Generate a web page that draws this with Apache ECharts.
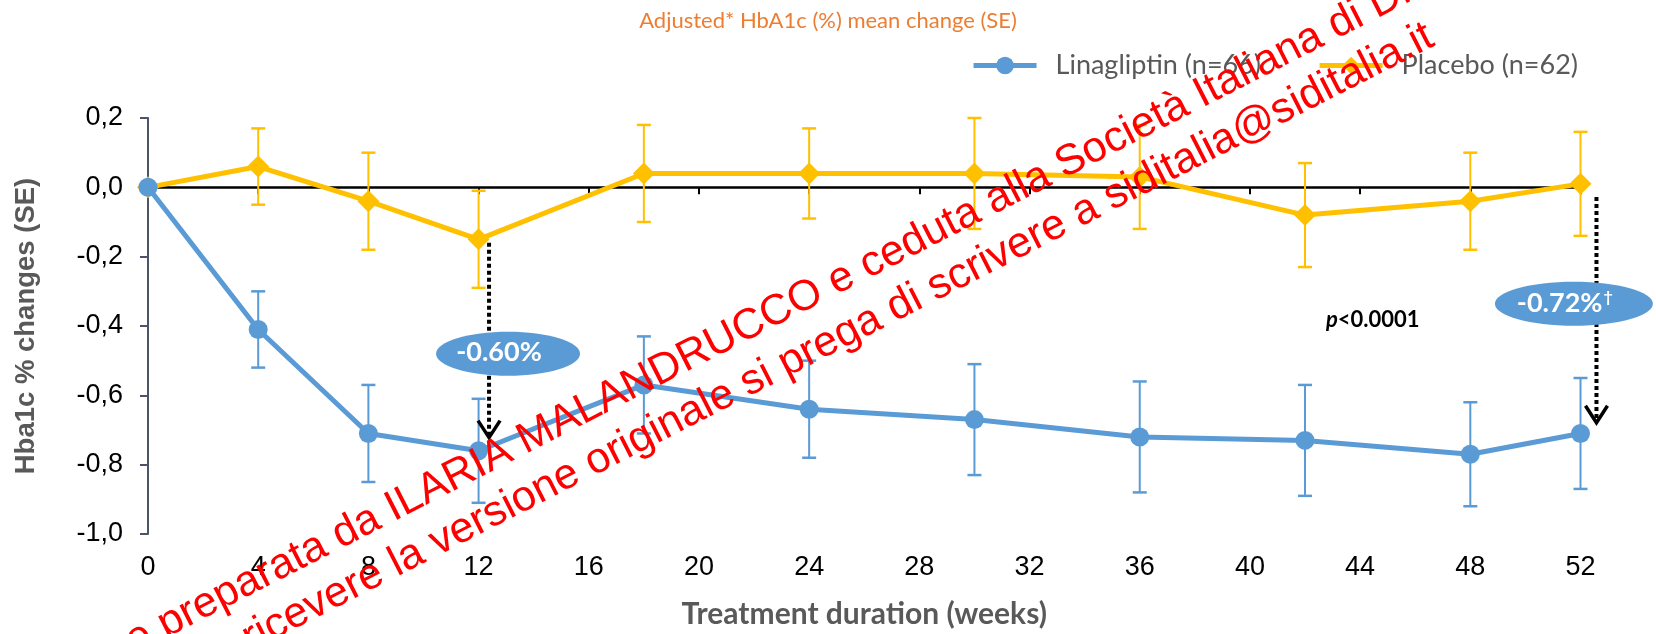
<!DOCTYPE html>
<html><head><meta charset="utf-8">
<script src="https://cdn.jsdelivr.net/npm/echarts@6/dist/echarts.min.js"></script>
<style>html,body{margin:0;padding:0;background:#fff}#c{width:1656px;height:634px}</style>
</head><body><div id="c"></div>
<script>
// ---------- data ----------
const weeks = [0, 4, 8, 12, 18, 24, 30, 36, 42, 48, 52];
const linaValues = [0, -0.41, -0.71, -0.76, -0.57, -0.64, -0.67, -0.72, -0.73, -0.77, -0.71];
const linaSE = [0, 0.11, 0.14, 0.15, 0.14, 0.14, 0.16, 0.16, 0.16, 0.15, 0.16];
const placeboValues = [0, 0.06, -0.04, -0.15, 0.04, 0.04, 0.04, 0.03, -0.08, -0.04, 0.01];
const placeboSE = [0, 0.11, 0.14, 0.14, 0.14, 0.13, 0.16, 0.15, 0.15, 0.14, 0.15];
const xTickLabels = ['0','4','8','12','16','20','24','28','32','36','40','44','48','52'];
const yTickLabels = ['-1,0','-0,8','-0,6','-0,4','-0,2','0,0','0,2'];
const seriesNames = ['Linagliptin (n=66)', 'Placebo (n=62)'];
const titleText = 'Adjusted* HbA1c (%) mean change (SE)';
const xAxisTitle = 'Treatment duration (weeks)';
const yAxisTitle = 'Hba1c % changes (SE)';
const diffLabels = ['-0.60%', '-0.72%'];
const pValueText = 'p<0.0001';
const watermarkLines = [
  'Presentazione preparata da ILARIA MALANDRUCCO e ceduta alla Società Italiana di Diabetologia',
  'Per ricevere la versione originale si prega di scrivere a siditalia@siditalia.it'
];

const BLUE = '#5B9BD5', YELLOW = '#FFC000';

function errorSeries(name, values, se, color, z) {
  const d = [];
  weeks.forEach((w, i) => { if (se[i] > 0) d.push([w, values[i] - se[i], values[i] + se[i]]); });
  return {
    type: 'custom', name: name, z: z, silent: true, xAxisIndex: 0, yAxisIndex: 0,
    data: d, encode: { x: 0, y: [1, 2] },
    renderItem: function (params, api) {
      const x = api.value(0);
      const lo = api.coord([x, api.value(1)]);
      const hi = api.coord([x, api.value(2)]);
      const hw = 7;
      return { type: 'group', children: [
        { type: 'line', shape: { x1: lo[0], y1: lo[1], x2: hi[0], y2: hi[1] }, style: { stroke: color, lineWidth: 2 } },
        { type: 'line', shape: { x1: lo[0] - hw, y1: lo[1], x2: lo[0] + hw, y2: lo[1] }, style: { stroke: color, lineWidth: 2.5 } },
        { type: 'line', shape: { x1: hi[0] - hw, y1: hi[1], x2: hi[0] + hw, y2: hi[1] }, style: { stroke: color, lineWidth: 2.5 } }
      ]};
    }
  };
}

const chart = echarts.init(document.getElementById('c'), null, { renderer: 'canvas' });
const option = {
  animation: false,
  backgroundColor: '#fff',
  title: {
    text: titleText, left: 'center', top: 10, padding: 0,
    textStyle: { fontFamily: 'Lato', fontWeight: 'normal', fontSize: 22, color: '#ED7D31' }
  },
  legend: {
    data: seriesNames, right: 73, top: 47,
    itemWidth: 63, itemHeight: 22, itemGap: 56, selectedMode: false,
    lineStyle: { width: 5 },
    textStyle: { fontFamily: 'Lato', fontSize: 27, color: '#595959', padding: [0, 0, 0, 14] }
  },
  grid: { left: 148, right: 75.5, top: 118, bottom: 100, containLabel: false },
  xAxis: [
    {
      type: 'value', min: 0, max: 52, interval: 4, position: 'bottom',
      axisLine: { show: false, onZero: false }, axisTick: { show: false }, splitLine: { show: false },
      axisLabel: { margin: 20, fontFamily: 'Liberation Sans', fontSize: 27, color: '#000',
        formatter: function (v, i) { return xTickLabels[i]; } },
      name: xAxisTitle, nameLocation: 'middle', nameGap: 65,
      nameTextStyle: { fontFamily: 'Lato', fontWeight: 'bold', fontSize: 30, color: '#595959' }
    },
    {
      type: 'value', min: 0, max: 52, interval: 4, position: 'top',
      axisLine: { show: true, onZero: true, lineStyle: { color: '#000', width: 2.5 } },
      axisTick: { show: true, inside: true, length: 7, lineStyle: { color: '#000', width: 2 } },
      axisLabel: { show: false }, splitLine: { show: false }
    }
  ],
  yAxis: {
    type: 'value', min: -1, max: 0.2, interval: 0.2,
    axisLine: { show: true, onZero: false, lineStyle: { color: '#4A5568', width: 2 } },
    axisTick: { show: true, length: 8, lineStyle: { color: '#4A5568', width: 2 } },
    splitLine: { show: false },
    axisLabel: { margin: 25, fontFamily: 'Liberation Sans', fontSize: 27, color: '#000',
      formatter: function (v, i) { return yTickLabels[i]; } },
    name: yAxisTitle, nameLocation: 'middle', nameGap: 108,
    nameTextStyle: { fontFamily: 'Liberation Sans', fontWeight: 'bold', fontSize: 27.5, color: '#595959' }
  },
  series: [
    errorSeries('Placebo SE', placeboValues, placeboSE, YELLOW, 2),
    errorSeries('Linagliptin SE', linaValues, linaSE, BLUE, 2),
    {
      type: 'line', name: seriesNames[1], z: 3,
      data: weeks.map((w, i) => [w, placeboValues[i]]),
      symbol: 'diamond', symbolSize: 22,
      lineStyle: { color: YELLOW, width: 5 }, itemStyle: { color: YELLOW }
    },
    {
      type: 'line', name: seriesNames[0], z: 4,
      data: weeks.map((w, i) => [w, linaValues[i]]),
      symbol: 'circle', symbolSize: 19,
      lineStyle: { color: BLUE, width: 5 }, itemStyle: { color: BLUE }
    }
  ]
};
chart.setOption(option);

// ---------- annotations (positioned through the chart's own scales) ----------
const P = (x, y) => chart.convertToPixel({ gridIndex: 0 }, [x, y]);
const arrows = [
  { week: 12.38, from: -0.16, to: -0.722 },
  { week: 52.58, from: -0.028, to: -0.679 }
];
const bubbles = [
  { week: 13.07, value: -0.48, rx: 72, ry: 22, textWeek: 12.74, rich: '{b|' + diffLabels[0] + '}' },
  { week: 51.76, value: -0.336, rx: 79, ry: 22, textWeek: 51.43, rich: '{b|' + diffLabels[1] + '}{s|†}' }
];
const graphics = [];
arrows.forEach(a => {
  const s = P(a.week, a.from), t = P(a.week, a.to);
  graphics.push({ type: 'line', z: 100, shape: { x1: s[0], y1: s[1], x2: t[0], y2: t[1] - 2 },
    style: { stroke: '#000', lineWidth: 4, lineDash: [4, 3] } });
  graphics.push({ type: 'polyline', z: 101, shape: { points: [[t[0] - 11, t[1] - 17], [t[0], t[1]], [t[0] + 11, t[1] - 17]] },
    style: { stroke: '#000', lineWidth: 3.5, fill: null } });
});
bubbles.forEach(b => {
  const c = P(b.week, b.value), tc = P(b.textWeek, b.value);
  graphics.push({ type: 'ellipse', z: 110, shape: { cx: c[0], cy: c[1], rx: b.rx, ry: b.ry }, style: { fill: BLUE } });
  graphics.push({ type: 'text', z: 111, x: tc[0], y: tc[1] - 1,
    style: { text: b.rich, align: 'center', verticalAlign: 'middle',
      rich: { b: { fontFamily: 'Lato', fontWeight: 'bold', fontSize: 27, fill: '#fff' },
              s: { fontFamily: 'Lato', fontWeight: 'bold', fontSize: 16, fill: '#fff', verticalAlign: 'top', padding: [0, 0, 12, 1] } } } });
});
const pp = P(44.46, -0.382);
graphics.push({ type: 'text', z: 111, x: pp[0], y: pp[1],
  style: { text: '{i|' + pValueText.slice(0, 1) + '}{b|' + pValueText.slice(1) + '}', align: 'center', verticalAlign: 'middle',
    rich: { i: { fontFamily: 'Lato', fontStyle: 'italic', fontWeight: 'bold', fontSize: 22, fill: '#000' },
            b: { fontFamily: 'Lato', fontWeight: 'bold', fontSize: 22, fill: '#000' } } } });

// watermark
const wmFont = '43px "Liberation Sans"';
const ctx = document.createElement('canvas').getContext('2d');
ctx.font = wmFont;
const ang = 27.1 * Math.PI / 180;
const wmAnchors = [
  { x: 394, y: 522, prefix: 'Presentazione preparata da ' },
  { x: 397.5, y: 577, prefix: 'Per ricevere ' }
];
watermarkLines.forEach((txt, k) => {
  const a = wmAnchors[k];
  const w = ctx.measureText(a.prefix).width;
  graphics.push({ type: 'text', z: 200, x: a.x, y: a.y, rotation: ang, silent: true,
    style: { text: txt, x: -w, y: 9, align: 'left', verticalAlign: 'bottom',
      fontFamily: 'Liberation Sans', fontSize: 43, fill: '#FF0000' } });
});
chart.setOption({ graphic: graphics });
</script></body></html>
